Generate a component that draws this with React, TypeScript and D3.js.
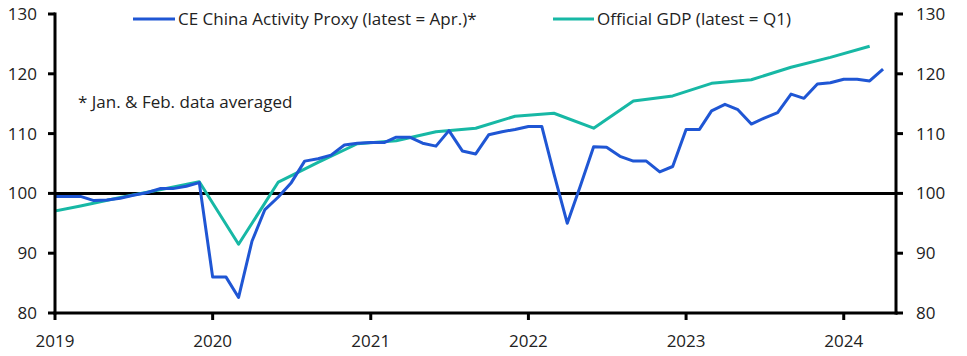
import React from "react";
import * as d3 from "d3";

// Monthly CE China Activity Proxy, Jan 2019 .. Apr 2024
const activityStart = [2019, 0];
const activityProxy = [
  99.5, 99.5, 99.5, 98.8, 98.9, 99.2, 99.7, 100.1, 100.8, 100.8, 101.2, 101.8,
  86.0, 86.0, 82.6, 92.0, 97.3, 99.4, 101.8, 105.4, 105.8, 106.4, 108.1, 108.4,
  108.5, 108.5, 109.4, 109.4, 108.4, 107.9, 110.5, 107.1, 106.6, 109.8, 110.3, 110.7,
  111.2, 111.2, 103.3, 95.0, 101.2, 107.8, 107.7, 106.2, 105.4, 105.4, 103.6, 104.5,
  110.7, 110.7, 113.8, 114.9, 114.0, 111.6, 112.6, 113.5, 116.6, 115.9, 118.3, 118.5,
  119.1, 119.1, 118.8, 120.8,
];

// Quarterly official GDP, Q4 2018 .. Q1 2024 (plotted at quarter-end month)
const gdpStart = [2018, 11];
const officialGdp = [
  96.6,
  97.9, 99.3, 100.6, 101.95,
  91.5, 101.9, 105.2, 108.3,
  108.8, 110.3, 110.9, 112.9,
  113.4, 110.9, 115.45, 116.3,
  118.4, 119.0, 121.1, 122.75,
  124.6,
];

const yearTicks = [2019, 2020, 2021, 2022, 2023, 2024];
const valueTicks = [80, 90, 100, 110, 120, 130];
const seriesNames = [
  "CE China Activity Proxy (latest = Apr.)*",
  "Official GDP (latest = Q1)",
];
const noteText = "* Jan. & Feb. data averaged";

const W = 967;
const H = 356;
const L = 55;
const R = 896;
const T = 14;
const B = 313;
const BLUE = "#1f56d4";
const TEAL = "#17b8a5";
const FONT = "'Open Sans', 'Noto Sans', sans-serif";

export default function App() {
  const x = d3
    .scaleTime()
    .domain([new Date(2019, 0, 1), new Date(2024, 4, 1)])
    .range([L, R]);
  const y = d3.scaleLinear().domain([80, 130]).range([B, T]);

  const actData = activityProxy.map((v, i) => ({
    d: new Date(activityStart[0], activityStart[1] + i, 1),
    v,
  }));
  const gdpData = officialGdp.map((v, i) => ({
    d: new Date(gdpStart[0], gdpStart[1] + i * 3, 1),
    v,
  }));

  const line = d3
    .line<{ d: Date; v: number }>()
    .x((p) => x(p.d))
    .y((p) => y(p.v));

  const fs = 17;

  return (
    <svg
      width={W}
      height={H}
      style={{ position: "absolute", left: 0, top: 0, background: "#fff" }}
      fontFamily={FONT}
    >
      <defs>
        <clipPath id="plot">
          <rect x={L} y={0} width={R - L} height={H} />
        </clipPath>
      </defs>

      {/* zero line at 100 */}
      <line x1={L} x2={R} y1={y(100)} y2={y(100)} stroke="#000" strokeWidth={3} />

      {/* series */}
      <g clipPath="url(#plot)">
        <path d={line(gdpData) || ""} fill="none" stroke={TEAL} strokeWidth={3} strokeLinejoin="round" />
        <path d={line(actData) || ""} fill="none" stroke={BLUE} strokeWidth={3} strokeLinejoin="round" />
      </g>

      {/* axes */}
      <line x1={L} x2={L} y1={T - 1.5} y2={B + 1.5} stroke="#000" strokeWidth={3} />
      <line x1={R} x2={R} y1={T - 1.5} y2={B + 1.5} stroke="#000" strokeWidth={3} />
      <line x1={L - 1.5} x2={R + 1.5} y1={B} y2={B} stroke="#000" strokeWidth={3} />

      {valueTicks.map((t) => (
        <g key={"l" + t}>
          <line x1={L - 7} x2={L} y1={y(t)} y2={y(t)} stroke="#000" strokeWidth={3} />
          <text x={L - 18} y={y(t)} dy="0.35em" textAnchor="end" fontSize={fs} fill="#222">
            {t}
          </text>
          <line x1={R} x2={R + 7} y1={y(t)} y2={y(t)} stroke="#000" strokeWidth={3} />
          <text x={R + 20} y={y(t)} dy="0.35em" textAnchor="start" fontSize={fs} fill="#222">
            {t}
          </text>
        </g>
      ))}

      {yearTicks.map((yr) => {
        const xx = x(new Date(yr, 0, 1));
        return (
          <g key={"y" + yr}>
            <line x1={xx} x2={xx} y1={B} y2={B + 7} stroke="#000" strokeWidth={3} />
            <text x={xx} y={347} textAnchor="middle" fontSize={fs} fill="#222">
              {yr}
            </text>
          </g>
        );
      })}

      {/* legend */}
      <line x1={133} x2={175} y1={19} y2={19} stroke={BLUE} strokeWidth={3} />
      <text x={178} y={19} dy="0.35em" fontSize={fs} fill="#222">
        {seriesNames[0]}
      </text>
      <line x1={553} x2={594} y1={19} y2={19} stroke={TEAL} strokeWidth={3} />
      <text x={597} y={19} dy="0.35em" fontSize={fs} fill="#222">
        {seriesNames[1]}
      </text>

      <text x={78} y={102} dy="0.35em" fontSize={fs} fill="#222">
        {noteText}
      </text>
    </svg>
  );
}
